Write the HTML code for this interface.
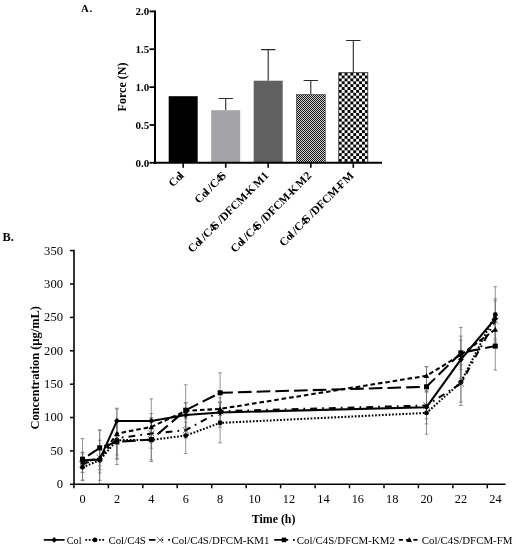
<!DOCTYPE html>
<html><head><meta charset="utf-8"><title>Figure</title>
<style>
html,body{margin:0;padding:0;background:#fff;}
body{width:516px;height:550px;overflow:hidden;}
svg{display:block;will-change:transform;}
text{font-family:"Liberation Serif",serif;fill:#000;}
.b{font-weight:bold;}
</style></head><body>
<svg width="516" height="550" viewBox="0 0 516 550">
<defs>
<pattern id="ck1" x="296" y="94" width="2" height="2" patternUnits="userSpaceOnUse" shape-rendering="crispEdges"><rect width="2" height="2" fill="#d6d6d6"/><rect width="1" height="1" fill="#111"/><rect x="1" y="1" width="1" height="1" fill="#111"/></pattern>
<pattern id="ck2" x="338.8" y="72.7" width="5.8" height="5.75" patternUnits="userSpaceOnUse"><rect width="5.8" height="5.75" fill="#fff"/><rect width="2.9" height="2.875" fill="#000"/><rect x="2.9" y="2.875" width="2.9" height="2.875" fill="#000"/></pattern>
</defs>
<rect width="516" height="550" fill="#fff"/>
<!-- Panel A -->
<text class="b" x="81" y="12.2" font-size="10.8" letter-spacing="0.7">A.</text>
<rect x="168.7" y="96.2" width="29" height="66.6" fill="#000"/>
<path d="M225.7 110.2V98.5M218.5 98.5H232.9" stroke="#2a2a2a" stroke-width="1.1" fill="none"/>
<rect x="211.2" y="110.2" width="29" height="52.6" fill="#a3a3a8"/>
<path d="M268.2 80.7V49.6M261.0 49.6H275.4" stroke="#2a2a2a" stroke-width="1.1" fill="none"/>
<rect x="253.7" y="80.7" width="29" height="82.1" fill="#606060"/>
<path d="M310.8 94.3V80.5M303.6 80.5H318.0" stroke="#2a2a2a" stroke-width="1.1" fill="none"/>
<rect x="296.3" y="94.3" width="29" height="68.5" fill="url(#ck1)" stroke="#444" stroke-width="0.6"/>
<path d="M353.3 72.7V40.5M346.1 40.5H360.5" stroke="#2a2a2a" stroke-width="1.1" fill="none"/>
<rect x="338.8" y="72.7" width="29" height="90.1" fill="url(#ck2)" stroke="#222" stroke-width="0.8"/>
<path d="M155 10.4V163.8" stroke="#000" stroke-width="2" fill="none"/>
<path d="M154 162.8H382" stroke="#000" stroke-width="2" fill="none"/>
<path d="M149.5 162.8H155" stroke="#000" stroke-width="1.8"/>
<text class="b" x="149.3" y="166.5" font-size="11" text-anchor="end">0.0</text>
<path d="M149.5 125.0H155" stroke="#000" stroke-width="1.8"/>
<text class="b" x="149.3" y="128.7" font-size="11" text-anchor="end">0.5</text>
<path d="M149.5 87.1H155" stroke="#000" stroke-width="1.8"/>
<text class="b" x="149.3" y="90.8" font-size="11" text-anchor="end">1.0</text>
<path d="M149.5 49.2H155" stroke="#000" stroke-width="1.8"/>
<text class="b" x="149.3" y="53.0" font-size="11" text-anchor="end">1.5</text>
<path d="M149.5 11.4H155" stroke="#000" stroke-width="1.8"/>
<text class="b" x="149.3" y="15.1" font-size="11" text-anchor="end">2.0</text>
<path d="M183.2 162.8V167.8" stroke="#000" stroke-width="1.6"/>
<path d="M225.7 162.8V167.8" stroke="#000" stroke-width="1.6"/>
<path d="M268.2 162.8V167.8" stroke="#000" stroke-width="1.6"/>
<path d="M310.8 162.8V167.8" stroke="#000" stroke-width="1.6"/>
<path d="M353.3 162.8V167.8" stroke="#000" stroke-width="1.6"/>
<text class="b" font-size="12" text-anchor="middle" transform="translate(125.5,87) rotate(-90)">Force (N)</text>
<text class="b" font-size="11.5" text-anchor="end" transform="translate(184.4,176.2) rotate(-45)">Co<tspan dx="-1.2">l</tspan></text>
<text class="b" font-size="11.5" text-anchor="end" transform="translate(226.9,176.2) rotate(-45)">Co<tspan dx="-1.4">l</tspan><tspan dx="2.0">/</tspan>C4<tspan dx="-2.2">S</tspan></text>
<text class="b" font-size="11.5" text-anchor="end" transform="translate(269.4,176.2) rotate(-45)">Co<tspan dx="-1.4">l</tspan><tspan dx="2.0">/</tspan>C4<tspan dx="-2.4">S</tspan><tspan dx="2.4">/</tspan>DFCM-<tspan dx="-1.8">K</tspan><tspan dx="1.8">M</tspan><tspan dx="0.4">1</tspan></text>
<text class="b" font-size="11.5" text-anchor="end" transform="translate(312.0,176.2) rotate(-45)">Co<tspan dx="-1.4">l</tspan><tspan dx="2.0">/</tspan>C4<tspan dx="-2.4">S</tspan><tspan dx="2.4">/</tspan>DFCM-<tspan dx="-1.8">K</tspan><tspan dx="1.8">M</tspan><tspan dx="0.4">2</tspan></text>
<text class="b" font-size="11.5" text-anchor="end" transform="translate(354.5,176.2) rotate(-45)">Co<tspan dx="-1.4">l</tspan><tspan dx="2.0">/</tspan>C4<tspan dx="-2.4">S</tspan><tspan dx="2.4">/</tspan>DFCM-<tspan dx="-1.8">F</tspan><tspan dx="1.0">M</tspan></text>
<!-- Panel B -->
<text class="b" x="2.6" y="241.3" font-size="12.3">B.</text>
<path d="M82.5 452.3V468.3M80.7 452.3h3.6M80.7 468.3h3.6" stroke="#707070" stroke-width="0.75" fill="none"/>
<path d="M99.7 446.2V473.0M97.9 446.2h3.6M97.9 473.0h3.6" stroke="#707070" stroke-width="0.75" fill="none"/>
<path d="M116.9 408.9V432.9M115.1 408.9h3.6M115.1 432.9h3.6" stroke="#707070" stroke-width="0.75" fill="none"/>
<path d="M151.3 398.8V442.9M149.5 398.8h3.6M149.5 442.9h3.6" stroke="#707070" stroke-width="0.75" fill="none"/>
<path d="M185.7 402.9V426.9M183.9 402.9h3.6M183.9 426.9h3.6" stroke="#707070" stroke-width="0.75" fill="none"/>
<path d="M220.1 397.8V427.2M218.3 397.8h3.6M218.3 427.2h3.6" stroke="#707070" stroke-width="0.75" fill="none"/>
<path d="M426.5 390.5V423.9M424.7 390.5h3.6M424.7 423.9h3.6" stroke="#707070" stroke-width="0.75" fill="none"/>
<path d="M460.9 336.1V382.8M459.1 336.1h3.6M459.1 382.8h3.6" stroke="#707070" stroke-width="0.75" fill="none"/>
<path d="M495.3 298.7V338.8M493.5 298.7h3.6M493.5 338.8h3.6" stroke="#707070" stroke-width="0.75" fill="none"/>
<path d="M82.5 453.9V480.6M80.7 453.9h3.6M80.7 480.6h3.6" stroke="#707070" stroke-width="0.75" fill="none"/>
<path d="M99.7 440.2V480.3M97.9 440.2h3.6M97.9 480.3h3.6" stroke="#707070" stroke-width="0.75" fill="none"/>
<path d="M116.9 421.5V458.9M115.1 421.5h3.6M115.1 458.9h3.6" stroke="#707070" stroke-width="0.75" fill="none"/>
<path d="M151.3 419.9V459.9M149.5 419.9h3.6M149.5 459.9h3.6" stroke="#707070" stroke-width="0.75" fill="none"/>
<path d="M185.7 417.5V453.6M183.9 417.5h3.6M183.9 453.6h3.6" stroke="#707070" stroke-width="0.75" fill="none"/>
<path d="M220.1 402.9V442.9M218.3 402.9h3.6M218.3 442.9h3.6" stroke="#707070" stroke-width="0.75" fill="none"/>
<path d="M426.5 391.5V434.2M424.7 391.5h3.6M424.7 434.2h3.6" stroke="#707070" stroke-width="0.75" fill="none"/>
<path d="M460.9 358.8V405.5M459.1 358.8h3.6M459.1 405.5h3.6" stroke="#707070" stroke-width="0.75" fill="none"/>
<path d="M495.3 286.7V342.8M493.5 286.7h3.6M493.5 342.8h3.6" stroke="#707070" stroke-width="0.75" fill="none"/>
<path d="M82.5 456.3V472.3M80.7 456.3h3.6M80.7 472.3h3.6" stroke="#707070" stroke-width="0.75" fill="none"/>
<path d="M99.7 445.6V469.6M97.9 445.6h3.6M97.9 469.6h3.6" stroke="#707070" stroke-width="0.75" fill="none"/>
<path d="M116.9 421.5V454.9M115.1 421.5h3.6M115.1 454.9h3.6" stroke="#707070" stroke-width="0.75" fill="none"/>
<path d="M151.3 418.9V448.2M149.5 418.9h3.6M149.5 448.2h3.6" stroke="#707070" stroke-width="0.75" fill="none"/>
<path d="M185.7 422.2V438.2M183.9 422.2h3.6M183.9 438.2h3.6" stroke="#707070" stroke-width="0.75" fill="none"/>
<path d="M220.1 401.9V420.5M218.3 401.9h3.6M218.3 420.5h3.6" stroke="#707070" stroke-width="0.75" fill="none"/>
<path d="M426.5 392.2V418.9M424.7 392.2h3.6M424.7 418.9h3.6" stroke="#707070" stroke-width="0.75" fill="none"/>
<path d="M460.9 364.8V402.2M459.1 364.8h3.6M459.1 402.2h3.6" stroke="#707070" stroke-width="0.75" fill="none"/>
<path d="M495.3 300.7V340.8M493.5 300.7h3.6M493.5 340.8h3.6" stroke="#707070" stroke-width="0.75" fill="none"/>
<path d="M82.5 438.6V480.0M80.7 438.6h3.6M80.7 480.0h3.6" stroke="#707070" stroke-width="0.75" fill="none"/>
<path d="M99.7 429.9V465.9M97.9 429.9h3.6M97.9 465.9h3.6" stroke="#707070" stroke-width="0.75" fill="none"/>
<path d="M116.9 419.2V464.6M115.1 419.2h3.6M115.1 464.6h3.6" stroke="#707070" stroke-width="0.75" fill="none"/>
<path d="M151.3 417.5V461.6M149.5 417.5h3.6M149.5 461.6h3.6" stroke="#707070" stroke-width="0.75" fill="none"/>
<path d="M185.7 384.8V435.6M183.9 384.8h3.6M183.9 435.6h3.6" stroke="#707070" stroke-width="0.75" fill="none"/>
<path d="M220.1 372.8V412.9M218.3 372.8h3.6M218.3 412.9h3.6" stroke="#707070" stroke-width="0.75" fill="none"/>
<path d="M426.5 366.8V406.9M424.7 366.8h3.6M424.7 406.9h3.6" stroke="#707070" stroke-width="0.75" fill="none"/>
<path d="M460.9 327.4V378.2M459.1 327.4h3.6M459.1 378.2h3.6" stroke="#707070" stroke-width="0.75" fill="none"/>
<path d="M495.3 322.1V370.1M493.5 322.1h3.6M493.5 370.1h3.6" stroke="#707070" stroke-width="0.75" fill="none"/>
<path d="M82.5 452.3V472.3M80.7 452.3h3.6M80.7 472.3h3.6" stroke="#707070" stroke-width="0.75" fill="none"/>
<path d="M99.7 430.2V484.3M97.9 430.2h3.6M97.9 484.3h3.6" stroke="#707070" stroke-width="0.75" fill="none"/>
<path d="M116.9 408.2V458.9M115.1 408.2h3.6M115.1 458.9h3.6" stroke="#707070" stroke-width="0.75" fill="none"/>
<path d="M151.3 413.5V440.2M149.5 413.5h3.6M149.5 440.2h3.6" stroke="#707070" stroke-width="0.75" fill="none"/>
<path d="M185.7 402.9V418.9M183.9 402.9h3.6M183.9 418.9h3.6" stroke="#707070" stroke-width="0.75" fill="none"/>
<path d="M220.1 402.2V415.5M218.3 402.2h3.6M218.3 415.5h3.6" stroke="#707070" stroke-width="0.75" fill="none"/>
<path d="M426.5 366.5V385.2M424.7 366.5h3.6M424.7 385.2h3.6" stroke="#707070" stroke-width="0.75" fill="none"/>
<path d="M460.9 340.1V369.5M459.1 340.1h3.6M459.1 369.5h3.6" stroke="#707070" stroke-width="0.75" fill="none"/>
<path d="M495.3 312.7V346.1M493.5 312.7h3.6M493.5 346.1h3.6" stroke="#707070" stroke-width="0.75" fill="none"/>
<polyline points="82.5,467.3 99.7,460.3 116.9,440.2 151.3,439.9 185.7,435.6 220.1,422.9 426.5,412.9 460.9,382.2 495.3,314.7" fill="none" stroke="#000" stroke-width="2.05" stroke-dasharray="1.7 1.7"/>
<polyline points="82.5,464.3 99.7,457.6 116.9,438.2 151.3,433.6 185.7,430.2 220.1,411.2 426.5,405.5 460.9,383.5 495.3,320.7" fill="none" stroke="#000" stroke-width="2.05" stroke-dasharray="6.8 5.1 1.7 5.1"/>
<polyline points="82.5,462.3 99.7,458.3 116.9,433.6 151.3,426.9 185.7,410.9 220.1,408.9 426.5,375.8 460.9,354.8 495.3,329.4" fill="none" stroke="#000" stroke-width="2.05" stroke-dasharray="4.6 2.9"/>
<polyline points="82.5,459.3 99.7,447.9 116.9,441.9 151.3,439.6 185.7,410.2 220.1,392.8 426.5,386.8 460.9,352.8 495.3,346.1" fill="none" stroke="#000" stroke-width="2.05" stroke-dasharray="13.6 5.1" stroke-dashoffset="12.0"/>
<polyline points="82.5,460.3 99.7,459.6 116.9,420.9 151.3,420.9 185.7,414.9 220.1,412.5 426.5,407.2 460.9,359.5 495.3,318.7" fill="none" stroke="#000" stroke-width="2.05"/>
<circle cx="82.5" cy="467.3" r="2.45" fill="#000"/>
<circle cx="99.7" cy="460.3" r="2.45" fill="#000"/>
<circle cx="116.9" cy="440.2" r="2.45" fill="#000"/>
<circle cx="151.3" cy="439.9" r="2.45" fill="#000"/>
<circle cx="185.7" cy="435.6" r="2.45" fill="#000"/>
<circle cx="220.1" cy="422.9" r="2.45" fill="#000"/>
<circle cx="426.5" cy="412.9" r="2.45" fill="#000"/>
<circle cx="460.9" cy="382.2" r="2.45" fill="#000"/>
<circle cx="495.3" cy="314.7" r="2.45" fill="#000"/>
<path d="M79.3 461.1L85.7 467.5M79.3 467.5L85.7 461.1" stroke="#333" stroke-width="0.7" fill="none"/>
<path d="M96.5 454.4L102.9 460.8M96.5 460.8L102.9 454.4" stroke="#333" stroke-width="0.7" fill="none"/>
<path d="M113.7 435.0L120.1 441.4M113.7 441.4L120.1 435.0" stroke="#333" stroke-width="0.7" fill="none"/>
<path d="M148.1 430.4L154.5 436.8M148.1 436.8L154.5 430.4" stroke="#333" stroke-width="0.7" fill="none"/>
<path d="M182.5 427.0L188.9 433.4M182.5 433.4L188.9 427.0" stroke="#333" stroke-width="0.7" fill="none"/>
<path d="M216.9 408.0L223.3 414.4M216.9 414.4L223.3 408.0" stroke="#333" stroke-width="0.7" fill="none"/>
<path d="M423.3 402.3L429.7 408.7M423.3 408.7L429.7 402.3" stroke="#333" stroke-width="0.7" fill="none"/>
<path d="M457.7 380.3L464.1 386.7M457.7 386.7L464.1 380.3" stroke="#333" stroke-width="0.7" fill="none"/>
<path d="M492.1 317.5L498.5 323.9M492.1 323.9L498.5 317.5" stroke="#333" stroke-width="0.7" fill="none"/>
<path d="M79.8 464.6L82.5 459.6L85.2 464.6Z" fill="#000"/>
<path d="M97.0 460.6L99.7 455.6L102.4 460.6Z" fill="#000"/>
<path d="M114.2 435.9L116.9 430.9L119.6 435.9Z" fill="#000"/>
<path d="M148.6 429.2L151.3 424.2L154.0 429.2Z" fill="#000"/>
<path d="M183.0 413.2L185.7 408.2L188.4 413.2Z" fill="#000"/>
<path d="M217.4 411.2L220.1 406.2L222.8 411.2Z" fill="#000"/>
<path d="M423.8 378.1L426.5 373.1L429.2 378.1Z" fill="#000"/>
<path d="M458.2 357.1L460.9 352.1L463.6 357.1Z" fill="#000"/>
<path d="M492.6 331.7L495.3 326.7L498.0 331.7Z" fill="#000"/>
<rect x="80.0" y="456.8" width="5.0" height="5.0" fill="#000"/>
<rect x="97.2" y="445.4" width="5.0" height="5.0" fill="#000"/>
<rect x="114.4" y="439.4" width="5.0" height="5.0" fill="#000"/>
<rect x="148.8" y="437.1" width="5.0" height="5.0" fill="#000"/>
<rect x="183.2" y="407.7" width="5.0" height="5.0" fill="#000"/>
<rect x="217.6" y="390.3" width="5.0" height="5.0" fill="#000"/>
<rect x="424.0" y="384.3" width="5.0" height="5.0" fill="#000"/>
<rect x="458.4" y="350.3" width="5.0" height="5.0" fill="#000"/>
<rect x="492.8" y="343.6" width="5.0" height="5.0" fill="#000"/>
<path d="M79.6 460.3L82.5 457.4L85.4 460.3L82.5 463.2Z" fill="#000"/>
<path d="M96.8 459.6L99.7 456.7L102.6 459.6L99.7 462.5Z" fill="#000"/>
<path d="M114.0 420.9L116.9 418.0L119.8 420.9L116.9 423.8Z" fill="#000"/>
<path d="M148.4 420.9L151.3 418.0L154.2 420.9L151.3 423.8Z" fill="#000"/>
<path d="M182.8 414.9L185.7 412.0L188.6 414.9L185.7 417.8Z" fill="#000"/>
<path d="M217.2 412.5L220.1 409.6L223.0 412.5L220.1 415.4Z" fill="#000"/>
<path d="M423.6 407.2L426.5 404.3L429.4 407.2L426.5 410.1Z" fill="#000"/>
<path d="M458.0 359.5L460.9 356.6L463.8 359.5L460.9 362.4Z" fill="#000"/>
<path d="M492.4 318.7L495.3 315.8L498.2 318.7L495.3 321.6Z" fill="#000"/>
<path d="M74.0 249.8V485.1" stroke="#000" stroke-width="1.6" fill="none"/>
<path d="M73.2 484.3H505.5" stroke="#000" stroke-width="1.6" fill="none"/>
<path d="M70 484.3H74.0" stroke="#000" stroke-width="1.5"/>
<text x="63" y="488.2" font-size="12.6" text-anchor="end">0</text>
<path d="M70 450.9H74.0" stroke="#000" stroke-width="1.5"/>
<text x="63" y="454.8" font-size="12.6" text-anchor="end">50</text>
<path d="M70 417.5H74.0" stroke="#000" stroke-width="1.5"/>
<text x="63" y="421.4" font-size="12.6" text-anchor="end">100</text>
<path d="M70 384.2H74.0" stroke="#000" stroke-width="1.5"/>
<text x="63" y="388.1" font-size="12.6" text-anchor="end">150</text>
<path d="M70 350.8H74.0" stroke="#000" stroke-width="1.5"/>
<text x="63" y="354.7" font-size="12.6" text-anchor="end">200</text>
<path d="M70 317.4H74.0" stroke="#000" stroke-width="1.5"/>
<text x="63" y="321.3" font-size="12.6" text-anchor="end">250</text>
<path d="M70 284.0H74.0" stroke="#000" stroke-width="1.5"/>
<text x="63" y="287.9" font-size="12.6" text-anchor="end">300</text>
<path d="M70 250.6H74.0" stroke="#000" stroke-width="1.5"/>
<text x="63" y="254.5" font-size="12.6" text-anchor="end">350</text>
<path d="M73.9 484.3V488.3" stroke="#000" stroke-width="1.5"/>
<path d="M108.4 484.3V488.3" stroke="#000" stroke-width="1.5"/>
<path d="M142.8 484.3V488.3" stroke="#000" stroke-width="1.5"/>
<path d="M177.2 484.3V488.3" stroke="#000" stroke-width="1.5"/>
<path d="M211.7 484.3V488.3" stroke="#000" stroke-width="1.5"/>
<path d="M246.2 484.3V488.3" stroke="#000" stroke-width="1.5"/>
<path d="M280.6 484.3V488.3" stroke="#000" stroke-width="1.5"/>
<path d="M315.1 484.3V488.3" stroke="#000" stroke-width="1.5"/>
<path d="M349.5 484.3V488.3" stroke="#000" stroke-width="1.5"/>
<path d="M384.0 484.3V488.3" stroke="#000" stroke-width="1.5"/>
<path d="M418.4 484.3V488.3" stroke="#000" stroke-width="1.5"/>
<path d="M452.9 484.3V488.3" stroke="#000" stroke-width="1.5"/>
<path d="M487.3 484.3V488.3" stroke="#000" stroke-width="1.5"/>
<text x="82.6" y="503.4" font-size="12.3" text-anchor="middle">0</text>
<text x="117.0" y="503.4" font-size="12.3" text-anchor="middle">2</text>
<text x="151.4" y="503.4" font-size="12.3" text-anchor="middle">4</text>
<text x="185.8" y="503.4" font-size="12.3" text-anchor="middle">6</text>
<text x="220.2" y="503.4" font-size="12.3" text-anchor="middle">8</text>
<text x="254.6" y="503.4" font-size="12.3" text-anchor="middle">10</text>
<text x="289.0" y="503.4" font-size="12.3" text-anchor="middle">12</text>
<text x="323.4" y="503.4" font-size="12.3" text-anchor="middle">14</text>
<text x="357.8" y="503.4" font-size="12.3" text-anchor="middle">16</text>
<text x="392.2" y="503.4" font-size="12.3" text-anchor="middle">18</text>
<text x="426.6" y="503.4" font-size="12.3" text-anchor="middle">20</text>
<text x="461.0" y="503.4" font-size="12.3" text-anchor="middle">22</text>
<text x="495.4" y="503.4" font-size="12.3" text-anchor="middle">24</text>
<text class="b" x="273.6" y="523" font-size="11.9" text-anchor="middle">Time (h)</text>
<text class="b" font-size="12.45" text-anchor="middle" transform="translate(38.5,367.8) rotate(-90)">Concentration (µg/mL)</text>
<path d="M43.8 539.9H64.6" stroke="#000" stroke-width="1.7" fill="none"/><path d="M51.4 539.9L54.2 537.1L57.0 539.9L54.2 542.7Z" fill="#000"/>
<text x="66.8" y="543.6" font-size="10.2">Col</text>
<path d="M85.4 539.9H105.5" stroke="#000" stroke-width="1.7" stroke-dasharray="1.7 1.7" fill="none"/><circle cx="95.0" cy="539.9" r="2.33" fill="#000"/>
<text x="108.4" y="543.6" font-size="10.9">Col/C4S</text>
<path d="M148.9 539.9H155.5M161.6 539.9h1.5M168.3 539.9h1.7" stroke="#000" stroke-width="1.7" fill="none"/><path d="M156.7 536.7L163.1 543.1M156.7 543.1L163.1 536.7" stroke="#333" stroke-width="0.7" fill="none"/>
<text x="171.4" y="543.6" font-size="10.9">Col/C4S/DFCM-KM1</text>
<path d="M274.2 539.9H288.2M293 539.9h1.7" stroke="#000" stroke-width="1.7" fill="none"/><rect x="281.7" y="537.6" width="4.6" height="4.6" fill="#000"/>
<text x="296.8" y="543.6" font-size="10.9">Col/C4S/DFCM-KM2</text>
<path d="M398.9 539.9h4M405.9 539.9h5M413.3 539.9h4.2" stroke="#000" stroke-width="1.7" fill="none"/><path d="M406.6 541.9L409.3 536.9L412.0 541.9Z" fill="#000"/>
<text x="421.7" y="543.6" font-size="10.9">Col/C4S/DFCM-FM</text>
</svg>
</body></html>
